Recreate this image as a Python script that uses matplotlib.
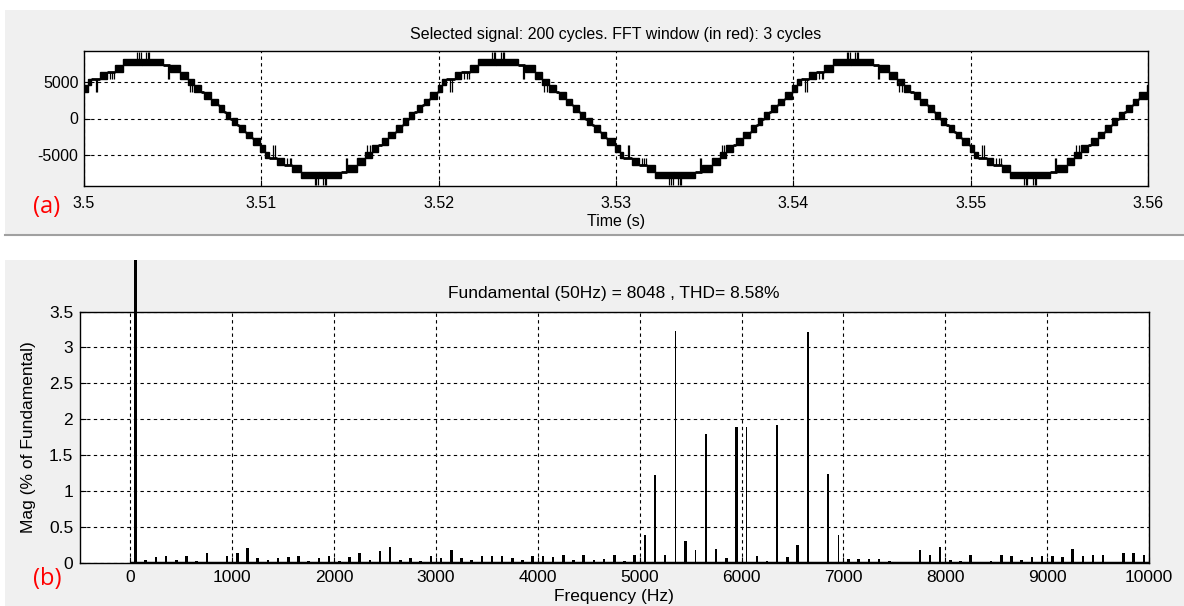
import numpy as np
import matplotlib.pyplot as plt
from matplotlib.patches import Rectangle
from matplotlib.lines import Line2D

plt.rcParams['font.family'] = ['Liberation Sans', 'DejaVu Sans']

# ---------------- (a) inverter output voltage ----------------
t_start = 3.5                     # s, left end of the time axis
step_volts = 910                  # height of one inverter level (V)
peak_ms = [-6.75, 3.25, 13.25, 23.25, 33.25, 43.25, 53.25, 63.25]   # peaks, ms after 3.5 s
peak_sign = [-1, 1, -1, 1, -1, 1, -1, 1]

# PWM switching bands before a peak: (ms before peak, ms before peak, lower level)
approach_d0 = [0.00, 1.03, 1.97, 2.84, 3.05, 3.33, 3.80, 4.17, 4.62]
approach_d1 = [1.03, 1.50, 2.35, 3.05, 3.30, 3.74, 4.10, 4.49, 4.90]
approach_lvl = [8, 7, 6, 5, 4, 3, 2, 1, 0]
# PWM switching bands after a peak
leave_d0 = [0.00, 1.60, 2.16, 2.60, 2.98, 3.54, 3.92, 4.35, 4.73]
leave_d1 = [1.22, 2.16, 2.60, 2.98, 3.35, 3.92, 4.29, 4.67, 5.00]
leave_lvl = [8, 7, 6, 5, 4, 3, 2, 1, 0]

# narrow switching spikes (ms from peak, negative = before), from level -> to level
spike_d = [-2.60, -2.50, -1.80, -1.65, -1.55, -0.25, -0.15, -0.05, 0.25, 0.35, 0.42, 1.50, 1.56, 2.70, 2.85]
spike_from = [6, 6, 7, 7, 7, 9, 9, 9, 9, 9, 9, 8, 8, 6, 6]
spike_to = [4, 4, 6, 6, 6, 10, 10, 10, 10, 10, 10, 6, 6, 4, 4]

time_ticks = [3.5, 3.51, 3.52, 3.53, 3.54, 3.55, 3.56]
time_labels = ['3.5', '3.51', '3.52', '3.53', '3.54', '3.55', '3.56']
volt_ticks = [-5000, 0, 5000]
volt_labels = ['-5000', '0', '5000']

# ---------------- (b) FFT spectrum, odd harmonics 50, 150, ... 9950 Hz ----------------
first_hz = 50
spacing_hz = 100
mag = [
    100.0, 0.05, 0.09, 0.10, 0.05, 0.10, 0.03, 0.14, 0.02, 0.10,   # 50 - 950
    0.14, 0.21, 0.07, 0.05, 0.07, 0.09, 0.10, 0.03, 0.07, 0.10,    # 1050 - 1950
    0.03, 0.09, 0.15, 0.05, 0.17, 0.23, 0.05, 0.07, 0.03, 0.10,    # 2050 - 2950
    0.07, 0.18, 0.07, 0.04, 0.10, 0.10, 0.10, 0.07, 0.04, 0.10,    # 3050 - 3950
    0.10, 0.09, 0.12, 0.04, 0.12, 0.05, 0.06, 0.11, 0.03, 0.12,    # 4050 - 4950
    0.39, 1.23, 0.12, 3.23, 0.31, 0.18, 1.80, 0.20, 0.08, 1.90,    # 5050 - 5950
    1.89, 0.10, 0.03, 1.92, 0.09, 0.26, 3.22, 0.01, 1.24, 0.39,    # 6050 - 6950
    0.06, 0.06, 0.06, 0.06, 0.03, 0.02, 0.01, 0.19, 0.12, 0.22,    # 7050 - 7950
    0.05, 0.03, 0.11, 0.02, 0.03, 0.11, 0.10, 0.05, 0.09, 0.10,    # 8050 - 8950
    0.10, 0.09, 0.20, 0.10, 0.12, 0.12, 0.02, 0.14, 0.14, 0.12,    # 9050 - 9950
]
freqs = first_hz + spacing_hz * np.arange(len(mag))
thin_hz = [5350, 5550, 6050, 6950]
freq_ticks = list(range(0, 10001, 1000))
mag_ticks = [0, 0.5, 1, 1.5, 2, 2.5, 3, 3.5]
mag_labels = ['0', '0.5', '1', '1.5', '2', '2.5', '3', '3.5']

W, H = 1184, 606
fig = plt.figure(figsize=(W / 100, H / 100), dpi=100, facecolor='white')


def px_box(x0, y0, x1, y1):
    return [x0 / W, 1 - y1 / H, (x1 - x0) / W, (y1 - y0) / H]


panel_a = Rectangle((5 / W, 1 - 234 / H), 1 - 5 / W, 224 / H, transform=fig.transFigure,
                    facecolor='#f0f0f0', edgecolor='none', zorder=-5)
panel_b = Rectangle((5 / W, 0), 1 - 5 / W, 1 - 260 / H, transform=fig.transFigure,
                    facecolor='#f0f0f0', edgecolor='none', zorder=-5)
fig.patches.extend([panel_a, panel_b])
fig.add_artist(Line2D([5 / W, 1], [1 - 234.5 / H, 1 - 234.5 / H], transform=fig.transFigure,
                      color='#a0a0a0', lw=1.5, zorder=-4))

grid_kw = dict(color='black', linestyle=(0, (3, 3)), linewidth=0.8)

# ---------------- panel (a) ----------------
ax1 = fig.add_axes(px_box(84, 51, 1148, 186))
bands = []
for tp, sgn in zip(peak_ms, peak_sign):
    for d0, d1, k in zip(approach_d0, approach_d1, approach_lvl):
        lo, hi = sorted([sgn * k * step_volts, sgn * (k + 1) * step_volts])
        bands.append((tp - d1, tp - d0, lo, hi))
    for d0, d1, k in zip(leave_d0, leave_d1, leave_lvl):
        lo, hi = sorted([sgn * k * step_volts, sgn * (k + 1) * step_volts])
        bands.append((tp + d0, tp + d1, lo, hi))
bands.sort()

b_t0 = np.array([b[0] for b in bands])
b_t1 = np.array([b[1] for b in bands])
b_lo = np.array([b[2] for b in bands])
b_hi = np.array([b[3] for b in bands])
ax1.bar(t_start + b_t0 / 1000, b_hi - b_lo, width=(b_t1 - b_t0) / 1000, bottom=b_lo,
        align='edge', color='black', edgecolor='black', linewidth=1.0, zorder=3)

# flat level between two switching bands
for a, b in zip(bands[:-1], bands[1:]):
    if b[0] <= a[1]:
        continue
    if a[2] == b[3]:
        lvl = a[2]
    elif a[3] == b[2]:
        lvl = a[3]
    else:
        continue
    ax1.hlines(lvl, t_start + a[1] / 1000, t_start + b[0] / 1000, color='black', lw=2.0, zorder=3)

for tp, sgn in zip(peak_ms, peak_sign):
    for d, f, to in zip(spike_d, spike_from, spike_to):
        ax1.vlines(t_start + (tp + d) / 1000, sgn * f * step_volts, sgn * to * step_volts,
                   color='black', lw=0.9, zorder=3)

ax1.set_xlim(3.5, 3.56)
ax1.set_ylim(-9230, 9230)
ax1.set_xticks(time_ticks)
ax1.set_xticklabels(time_labels)
ax1.set_yticks(volt_ticks)
ax1.set_yticklabels(volt_labels)
ax1.tick_params(direction='in', length=4, labelsize=11.5, colors='black')
ax1.tick_params(axis='x', pad=7)
ax1.tick_params(axis='y', pad=4)
ax1.grid(True, **grid_kw)
ax1.set_axisbelow(True)
ax1.set_title('Selected signal: 200 cycles. FFT window (in red): 3 cycles', fontsize=11.5, pad=8.5)
ax1.set_xlabel('Time (s)', fontsize=11.5, labelpad=2)
for s in ax1.spines.values():
    s.set_linewidth(1.0)

# ---------------- panel (b) ----------------
ax2 = fig.add_axes(px_box(79.5, 311.5, 1149, 563.3))
widths = [30 if f == first_hz else (12 if f in thin_hz else 25) for f in freqs]
bars = ax2.bar(freqs, mag, width=widths, color='black', edgecolor='none', zorder=3)
bars[0].set_clip_on(True)
bars[0].set_clip_path(panel_b)
ax2.hlines(0, 0, freqs[-1] + first_hz, color='black', lw=2.5, zorder=3)

ax2.set_xlim(-500, 10000)
ax2.set_ylim(0, 3.5)
ax2.set_xticks(freq_ticks)
ax2.set_yticks(mag_ticks)
ax2.set_yticklabels(mag_labels)
ax2.tick_params(direction='in', length=4, labelsize=12.5, colors='black')
ax2.tick_params(axis='x', pad=5)
ax2.tick_params(axis='y', pad=4.5)
ax2.grid(True, **grid_kw)
ax2.set_axisbelow(True)
ax2.set_title('Fundamental (50Hz) = 8048 , THD= 8.58%', fontsize=12.5, pad=9.5)
ax2.set_xlabel('Frequency (Hz)', fontsize=12.5, labelpad=3)
ax2.set_ylabel('Mag (% of Fundamental)', fontsize=12.5, labelpad=9)
for s in ax2.spines.values():
    s.set_linewidth(1.0)

fig.text(47 / W, 1 - 207 / H, '(a)', color='red', fontsize=17, ha='center', va='center',
         family=['Open Sans', 'DejaVu Sans'])
fig.text(47 / W, 1 - 579 / H, '(b)', color='red', fontsize=17, ha='center', va='center',
         family=['Open Sans', 'DejaVu Sans'])

fig.savefig('out.png', dpi=100, facecolor='white')
